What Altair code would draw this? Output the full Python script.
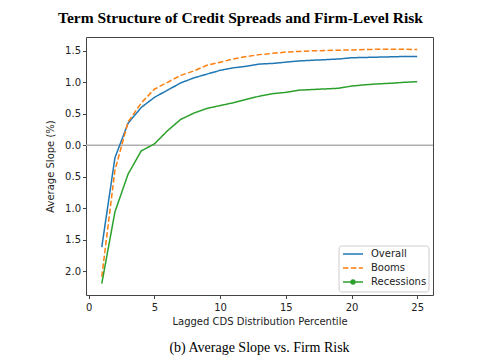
import altair as alt
import pandas as pd

percentile = list(range(1, 26))
overall = [-1.62, -0.20, 0.35, 0.60, 0.76, 0.875, 0.99, 1.07, 1.13, 1.19, 1.23, 1.255, 1.29,
           1.30, 1.32, 1.34, 1.35, 1.36, 1.37, 1.39, 1.395, 1.40, 1.405, 1.41, 1.41]
booms = [-2.09, -0.40, 0.37, 0.67, 0.89, 1.00, 1.11, 1.18, 1.27, 1.32, 1.37, 1.41, 1.44,
         1.46, 1.48, 1.49, 1.50, 1.505, 1.51, 1.515, 1.52, 1.525, 1.525, 1.525, 1.52]
recessions = [-2.20, -1.06, -0.46, -0.09, 0.02, 0.23, 0.41, 0.51, 0.585, 0.63, 0.675, 0.73, 0.78,
              0.82, 0.84, 0.875, 0.885, 0.895, 0.905, 0.94, 0.96, 0.975, 0.985, 1.00, 1.01]
series_names = ["Overall", "Booms", "Recessions"]
series_colors = ["#1f77b4", "#ff7f0e", "#2ca02c"]
x_ticks = [0, 5, 10, 15, 20, 25]
y_ticks = [-2.0, -1.5, -1.0, -0.5, 0.0, 0.5, 1.0, 1.5]

rows = []
for name, vals in zip(series_names, [overall, booms, recessions]):
    for p, v in zip(percentile, vals):
        rows.append({"pct": p, "slope": v, "series": name})
df = pd.DataFrame(rows)
leg_df = pd.DataFrame({"series": series_names})

W, H = 347, 258

xscale = alt.Scale(domain=[-0.2, 26.2], nice=False, zero=False)
yscale = alt.Scale(domain=[-2.38, 1.72], nice=False, zero=False)
cscale = alt.Scale(domain=series_names, range=series_colors)
dscale = alt.Scale(domain=series_names, range=[[1, 0], [5.5, 2.4], [1, 0]])
yaxis = alt.Axis(values=y_ticks, labelExpr="format(abs(datum.value), '.1f')",
                 labelOverlap=False, titlePadding=9)

zero = alt.Chart(pd.DataFrame({"y": [0.0]})).mark_rule(color="#b0b0b0", strokeWidth=1.5).encode(
    y=alt.Y("y:Q", scale=yscale, axis=yaxis, title="Average Slope (%)")
)

lines = alt.Chart(df).mark_line(strokeWidth=1.5).encode(
    x=alt.X("pct:Q", scale=xscale, title="Lagged CDS Distribution Percentile",
            axis=alt.Axis(values=x_ticks, format="d", titlePadding=4, labelPadding=4)),
    y=alt.Y("slope:Q", scale=yscale, title="Average Slope (%)", axis=yaxis),
    color=alt.Color("series:N", scale=cscale, legend=None),
    strokeDash=alt.StrokeDash("series:N", scale=dscale, legend=None),
)

# manual legend (lower right)
ly = alt.Y("series:N", scale=alt.Scale(type="point", domain=series_names, range=[217, 245], padding=0), axis=None)
leg_box = alt.Chart(pd.DataFrame({"a": [0]})).mark_rect(
    fill="white", stroke="#cccccc", strokeWidth=1, cornerRadius=3
).encode(x=alt.value(253), x2=alt.value(343), y=alt.value(209), y2=alt.value(255))
leg_lines = alt.Chart(leg_df).mark_rule(strokeWidth=1.5).encode(
    x=alt.value(257), x2=alt.value(277), y=ly,
    color=alt.Color("series:N", scale=cscale, legend=None),
    strokeDash=alt.StrokeDash("series:N", scale=dscale, legend=None),
)
leg_dot = alt.Chart(leg_df).transform_filter(alt.datum.series == "Recessions").mark_point(
    filled=True, size=28, opacity=1, shape="circle"
).encode(x=alt.value(267), y=ly, color=alt.Color("series:N", scale=cscale, legend=None))
leg_text = alt.Chart(leg_df).mark_text(
    align="left", baseline="middle", font="DejaVu Sans", fontSize=10, color="#222"
).encode(x=alt.value(285), y=ly, text="series:N")

caption = alt.Chart(pd.DataFrame({"t": ["(b) Average Slope vs. Firm Risk"]})).mark_text(
    font="Liberation Serif", fontSize=14, color="black", baseline="middle", align="center"
).encode(text="t:N", x=alt.value(W / 2), y=alt.value(H + 53))

main = alt.layer(zero, lines)
legend_layer = alt.layer(leg_box, leg_lines, leg_dot, leg_text)

chart = alt.layer(main, legend_layer, caption).resolve_scale(y="independent").properties(
    width=W, height=H,
    title=alt.TitleParams("Term Structure of Credit Spreads and Firm-Level Risk", font="Liberation Serif",
                          fontSize=15.5, fontWeight="bold", color="black", anchor="middle", dx=-19, offset=11),
    autosize=alt.AutoSizeParams(type="none"),
    padding={"left": 78, "top": 29, "right": 39, "bottom": 64},
).configure_view(stroke="#444", strokeWidth=1).configure_axis(
    grid=False, domain=False, tickColor="#444", tickSize=3.5, labelPadding=2,
    labelFont="DejaVu Sans", labelFontSize=10, labelColor="#222",
    titleFont="DejaVu Sans", titleFontSize=10, titleFontWeight="normal", titleColor="#222",
)

chart.save("out.html", embed_options={"renderer": "svg", "actions": False})
